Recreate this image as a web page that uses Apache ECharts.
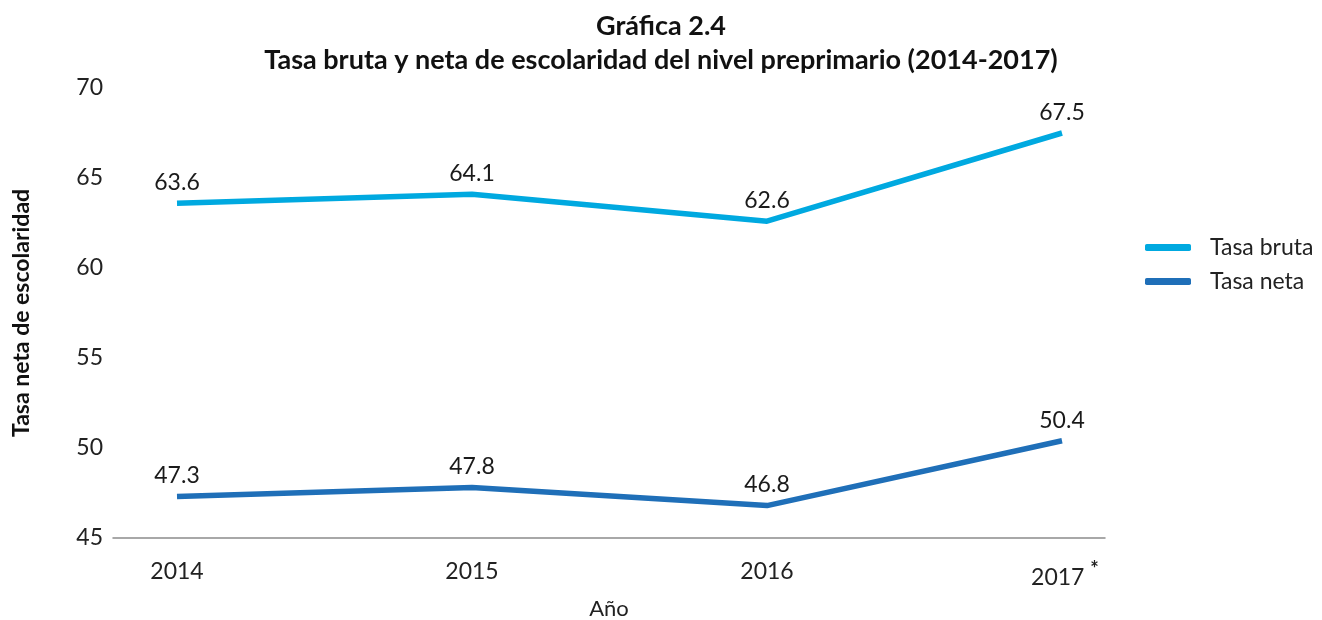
<!DOCTYPE html>
<html>
<head>
<meta charset="utf-8">
<script src="https://cdn.jsdelivr.net/npm/echarts@6/dist/echarts.min.js"></script>
<style>
  html, body { margin: 0; padding: 0; background: #fff; }
  #chart { width: 1322px; height: 620px; }
</style>
</head>
<body>
<div id="chart"></div>
<script>
const years = ['2014', '2015', '2016', '2017']
const tasaBruta = [63.6, 64.1, 62.6, 67.5]
const tasaNeta = [47.3, 47.8, 46.8, 50.4]
const yMin = 45
const yMax = 70
const yStep = 5

const font = 'Lato'
const chart = echarts.init(document.getElementById('chart'), null, { renderer: 'canvas' })

const labelStyle = {
  show: true,
  position: 'top',
  distance: 9,
  fontFamily: font,
  fontSize: 23,
  color: '#1a1a1a',
  formatter: p => p.value.toFixed(1)
}

chart.setOption({
  animation: false,
  backgroundColor: '#fff',
  textStyle: { fontFamily: font },
  title: {
    text: 'Gráfica 2.4\nTasa bruta y neta de escolaridad del nivel preprimario (2014-2017)',
    left: 'center',
    top: 4,
    textStyle: { fontFamily: font, fontSize: 27, fontWeight: 'bold', color: '#111', lineHeight: 34 }
  },
  legend: {
    orient: 'vertical',
    left: 1140,
    top: 231,
    itemWidth: 46,
    itemHeight: 7,
    itemGap: 11,
    icon: 'roundRect',
    textStyle: { fontFamily: font, fontSize: 23, color: '#222', padding: [0, 0, 0, 14] },
    data: ['Tasa bruta', 'Tasa neta']
  },
  grid: [
    // outer grid: axis line, y ticks, axis names
    { left: 113, right: 217, top: 88, bottom: 82, containLabel: false, outerBoundsMode: 'none' },
    // inner grid: the data points
    { left: 177, right: 260, top: 88, bottom: 82, containLabel: false, outerBoundsMode: 'none' }
  ],
  xAxis: [
    {
      type: 'value',
      gridIndex: 0,
      min: 0,
      max: 1,
      name: 'Año',
      nameLocation: 'middle',
      nameGap: 60,
      nameTextStyle: { fontFamily: font, fontSize: 22, color: '#222' },
      axisLine: { show: true, lineStyle: { color: '#8c8c8c', width: 1.5 } },
      axisTick: { show: false },
      axisLabel: { show: false },
      splitLine: { show: false }
    },
    {
      type: 'category',
      gridIndex: 1,
      data: years,
      boundaryGap: false,
      axisLine: { show: false },
      axisTick: { show: false },
      axisLabel: {
        margin: 22,
        fontFamily: font,
        fontSize: 23,
        color: '#222',
        formatter: v => v === '2017' ? ' ' + v + ' {s|*}' : v,
        rich: {
          s: { fontFamily: font, fontSize: 20, fontWeight: 'bold', color: '#222', verticalAlign: 'top', padding: [0, 0, 16, 0] }
        }
      }
    }
  ],
  yAxis: [
    {
      type: 'value',
      gridIndex: 0,
      min: yMin,
      max: yMax,
      interval: yStep,
      name: 'Tasa neta de escolaridad',
      nameLocation: 'middle',
      nameGap: 80,
      nameTextStyle: { fontFamily: font, fontSize: 23, fontWeight: 'bold', color: '#111' },
      axisLine: { show: false },
      axisTick: { show: false },
      splitLine: { show: false },
      axisLabel: { margin: 10, fontFamily: font, fontSize: 23, color: '#222' }
    },
    {
      type: 'value',
      gridIndex: 1,
      min: yMin,
      max: yMax,
      interval: yStep,
      show: false,
      splitLine: { show: false }
    }
  ],
  series: [
    {
      name: 'Tasa bruta',
      type: 'line',
      xAxisIndex: 1,
      yAxisIndex: 1,
      data: tasaBruta,
      symbol: 'circle',
      symbolSize: 0.1,
      color: '#00a9e0',
      lineStyle: { width: 5.5, color: '#00a9e0' },
      label: labelStyle
    },
    {
      name: 'Tasa neta',
      type: 'line',
      xAxisIndex: 1,
      yAxisIndex: 1,
      data: tasaNeta,
      symbol: 'circle',
      symbolSize: 0.1,
      color: '#1f6fb8',
      lineStyle: { width: 5.5, color: '#1f6fb8' },
      label: labelStyle
    }
  ]
})
</script>
</body>
</html>
